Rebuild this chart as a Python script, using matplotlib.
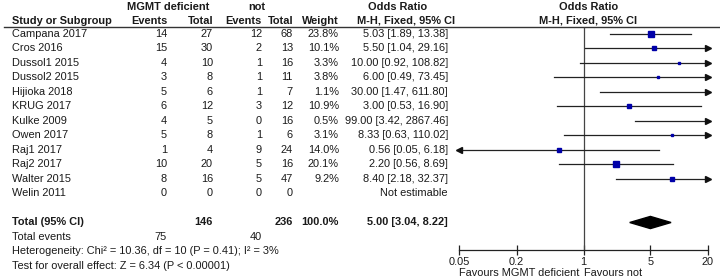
import matplotlib
matplotlib.use("Agg")
import matplotlib.pyplot as plt

plt.rcParams['font.family'] = ['Liberation Sans', 'DejaVu Sans']

studies = ['Campana 2017', 'Cros 2016', 'Dussol1 2015', 'Dussol2 2015', 'Hijioka 2018',
           'KRUG 2017', 'Kulke 2009', 'Owen 2017', 'Raj1 2017', 'Raj2 2017',
           'Walter 2015', 'Welin 2011']
ev1 = [14, 15, 4, 3, 5, 6, 4, 5, 1, 10, 8, 0]
tot1 = [27, 30, 10, 8, 6, 12, 5, 8, 4, 20, 16, 0]
ev2 = [12, 2, 1, 1, 1, 3, 0, 1, 9, 5, 5, 0]
tot2 = [68, 13, 16, 11, 7, 12, 16, 6, 24, 16, 47, 0]
weight = [23.8, 10.1, 3.3, 3.8, 1.1, 10.9, 0.5, 3.1, 14.0, 20.1, 9.2, None]
odds = [5.03, 5.50, 10.00, 6.00, 30.00, 3.00, 99.00, 8.33, 0.56, 2.20, 8.40, None]
ci_lo = [1.89, 1.04, 0.92, 0.49, 1.47, 0.53, 3.42, 0.63, 0.05, 0.56, 2.18, None]
ci_hi = [13.38, 29.16, 108.82, 73.45, 611.80, 16.90, 2867.46, 110.02, 6.18, 8.69, 32.37, None]

total1, total2 = 146, 236
events1, events2 = 75, 40
pooled, pooled_lo, pooled_hi = 5.00, 3.04, 8.22
het_text = 'Heterogeneity: Chi² = 10.36, df = 10 (P = 0.41); I² = 3%'
test_text = 'Test for overall effect: Z = 6.34 (P < 0.00001)'
ticks = [0.05, 0.2, 1, 5, 20]

txt = '#1a1a1a'
fs = 7.9

# row layout: pixel y = 34 + 14.5 * row
top_row = -34 / 14.5
bot_row = (279 - 34) / 14.5

fig = plt.figure(figsize=(7.2, 2.79), dpi=100)
ax = fig.add_axes([0, 0, 1, 1])
ax.set_xlim(0, 720)
ax.set_ylim(bot_row, top_row)
ax.axis('off')

def t(x, y, s, ha='right', bold=False):
    ax.text(x, y, s, ha=ha, va='center', fontsize=fs, color=txt,
            fontweight='bold' if bold else 'normal')

# headers
t(168, -1.85, 'MGMT deficient', ha='center', bold=True)
t(257, -1.85, 'not', ha='center', bold=True)
t(398, -1.85, 'Odds Ratio', ha='center', bold=True)
t(589, -1.85, 'Odds Ratio', ha='center', bold=True)
t(12, -0.9, 'Study or Subgroup', ha='left', bold=True)
t(167, -0.9, 'Events', bold=True)
t(213, -0.9, 'Total', bold=True)
t(262, -0.9, 'Events', bold=True)
t(293, -0.9, 'Total', bold=True)
t(339, -0.9, 'Weight', bold=True)
t(406, -0.9, 'M-H, Fixed, 95% CI', ha='center', bold=True)
t(588, -0.9, 'M-H, Fixed, 95% CI', ha='center', bold=True)
ax.plot([4, 719], [-0.5, -0.5], color='#333333', lw=1.0)

for i, name in enumerate(studies):
    t(12, i, name, ha='left')
    t(167, i, str(ev1[i]))
    t(213, i, str(tot1[i]))
    t(262, i, str(ev2[i]))
    t(293, i, str(tot2[i]))
    if weight[i] is None:
        t(448, i, 'Not estimable')
    else:
        t(339, i, f'{weight[i]:.1f}%')
        t(448, i, f'{odds[i]:.2f} [{ci_lo[i]:.2f}, {ci_hi[i]:.2f}]')

tr = 13
t(12, tr, 'Total (95% CI)', ha='left', bold=True)
t(213, tr, str(total1), bold=True)
t(293, tr, str(total2), bold=True)
t(339, tr, '100.0%', bold=True)
t(448, tr, f'{pooled:.2f} [{pooled_lo:.2f}, {pooled_hi:.2f}]', bold=True)
t(12, 14, 'Total events', ha='left')
t(167, 14, str(events1))
t(262, 14, str(events2))
t(12, 15, het_text, ha='left')
t(12, 16, test_text, ha='left')

t(579, 16.5, 'Favours MGMT deficient')
t(584, 16.5, 'Favours not', ha='left')

# forest plot
fx = fig.add_axes([459 / 720, 0, 249 / 720, 1])
fx.set_xscale('log')
xmin, xmax = ticks[0], ticks[-1]
fx.set_xlim(xmin, xmax)
fx.set_ylim(bot_row, top_row)
fx.patch.set_visible(False)
for s in ['top', 'left', 'right']:
    fx.spines[s].set_visible(False)
axis_row = 14.9
fx.spines['bottom'].set_position(('data', axis_row))
fx.spines['bottom'].set_color('#222222')
fx.spines['bottom'].set_linewidth(0.9)
fx.set_xticks(ticks)
fx.set_xticklabels([f'{v:g}' for v in ticks])
fx.minorticks_off()
fx.tick_params(axis='x', direction='inout', length=7.5, width=0.9, pad=1.5,
               labelsize=fs, colors='#222222', labelcolor=txt)
fx.set_yticks([])

fx.plot([1, 1], [-0.5, axis_row], color='#444444', lw=0.9, solid_capstyle='butt')

for i in range(len(studies)):
    if odds[i] is None:
        continue
    a = max(ci_lo[i], xmin)
    b = min(ci_hi[i], xmax)
    fx.plot([a, b], [i, i], color='#222222', lw=0.9, clip_on=False)
    if ci_lo[i] <= xmin:
        fx.plot([xmin], [i], marker='<', color='#111111', ms=4, clip_on=False)
    if ci_hi[i] >= xmax:
        fx.plot([xmax], [i], marker='>', color='#111111', ms=4, clip_on=False)
    if xmin < odds[i] < xmax:
        fx.plot([odds[i]], [i], marker='s', color='#0000A8', mec='#0000A8',
                ms=0.88 * weight[i] ** 0.5, zorder=3)

h = 0.42
fx.fill([pooled_lo, pooled, pooled_hi, pooled], [tr, tr - h, tr, tr + h],
        color='black', zorder=3)

fig.savefig('out.png', dpi=100)
